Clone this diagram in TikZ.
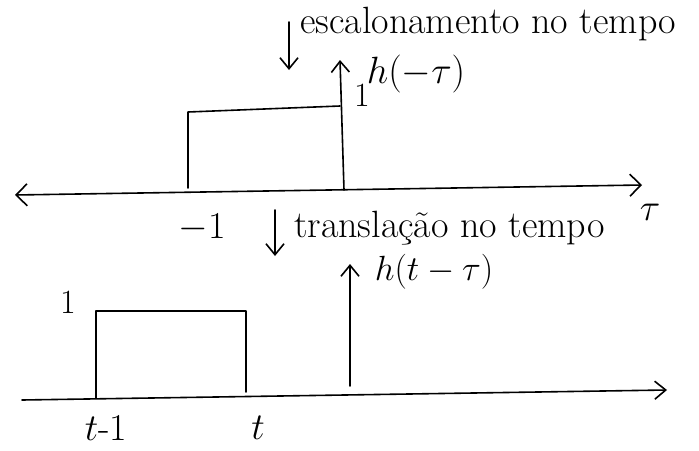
\RequirePackage{fix-cm}
\documentclass[tikz,border=0pt]{standalone}
\usetikzlibrary{arrows.meta}
\begin{document}
\begin{tikzpicture}[x=1pt,y=-1pt,
  ln/.style={line width=1.6pt,line cap=round,line join=round},
  barb/.style={ln,-{Straight Barb[length=11pt,width=18pt,line width=1.6pt]}},
  dbarb/.style={ln,{Straight Barb[length=11pt,width=22pt,line width=1.6pt]}-{Straight Barb[length=11pt,width=22pt,line width=1.6pt]}},
  small/.style={inner sep=0pt,font=\fontsize{34}{38}\selectfont},
  lab/.style={inner sep=0pt,font=\fontsize{38}{42}\selectfont},
  txt/.style={inner sep=0pt,anchor=west,font=\fontsize{38}{42}\selectfont},
  big/.style={inner sep=0pt,font=\fontsize{38}{42}\selectfont}]
\useasboundingbox[fill=white] (0,0) rectangle (699,450);
% top graph
\coordinate (tL) at (15,195);
\coordinate (tR) at (642,185);
\draw[dbarb] (tL) -- (tR);
\node[big] (tau) at (650,212) {$\tau$};
\coordinate (hb1) at (344,190);
\coordinate (ht1) at (340,60);
\draw[barb] (hb1) -- (ht1);
\coordinate (r1a) at (188,188);
\coordinate (r1b) at (188,112);
\coordinate (r1c) at (340,106);
\draw[ln] (r1a) -- (r1b) -- (r1c);
\node[small] (one1) at (362,95) {1};
\node[big] (hmt) at (416,74) {$h(-\tau)$};
\node[lab] (m1) at (202,228) {$-1$};
\coordinate (d1a) at (289,22);
\coordinate (d1b) at (289,70);
\draw[barb] (d1a) -- (d1b);
\node[txt] (esc) at (300,24) {escalonamento no tempo};
\coordinate (d2a) at (275,210);
\coordinate (d2b) at (275,256);
\draw[barb] (d2a) -- (d2b);
\node[txt] (tra) at (294,228) {translação no tempo};
% bottom graph
\coordinate (bL) at (22,400);
\coordinate (bR) at (667,390);
\draw[barb] (bL) -- (bR);
\coordinate (hb2) at (350,386);
\coordinate (ht2) at (350,264);
\draw[barb] (hb2) -- (ht2);
\node[font=\fontsize{35}{40}\selectfont,inner sep=0pt] (htt) at (434,272) {$h(t-\tau)$};
\coordinate (r2a) at (96,398);
\coordinate (r2b) at (96,311);
\coordinate (r2c) at (246,311);
\coordinate (r2d) at (246,392);
\draw[ln] (r2a) -- (r2b) -- (r2c) -- (r2d);
\node[small] (one2) at (68,302) {1};
\node[lab] (tm1) at (106,428) {$t$-1};
\node[lab] (t) at (258,428) {$t$};
\end{tikzpicture}
\end{document}
